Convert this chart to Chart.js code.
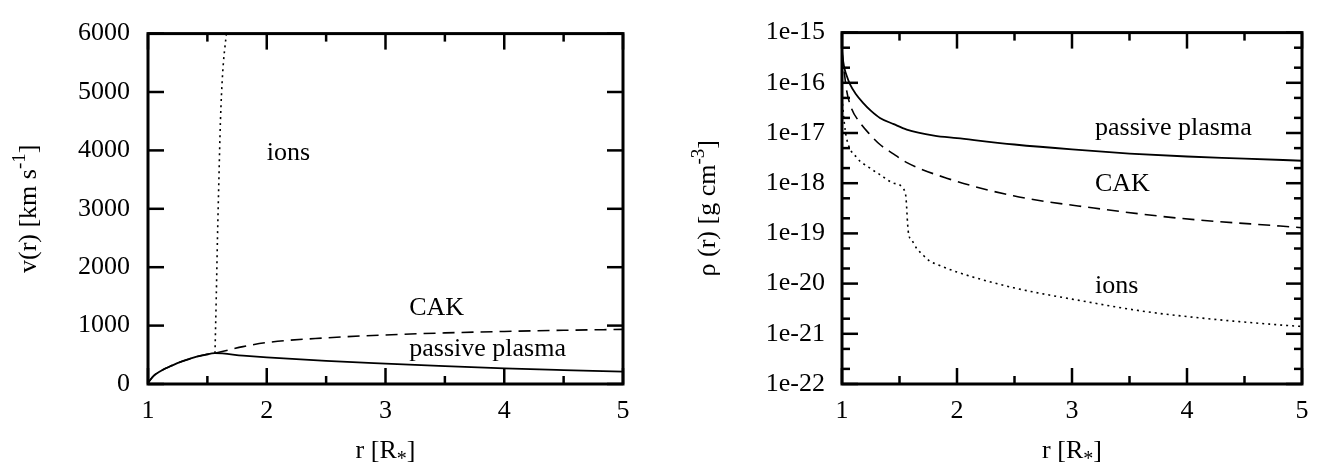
<!DOCTYPE html>
<html><head><meta charset="utf-8">
<script src="https://cdn.jsdelivr.net/npm/chart.js@4.4.0/dist/chart.umd.min.js"></script>
<style>
html,body{margin:0;padding:0;background:#fff;}
#wrap{position:relative;width:1329px;height:465px;overflow:hidden;background:#fff}
canvas{position:absolute;top:0}
#cL{left:0px}
#cR{left:664px}
</style></head><body>
<div id="wrap"><canvas id="cL" width="664" height="465"></canvas><canvas id="cR" width="665" height="465"></canvas></div>
<script>
// ---------- Left panel: velocity v(r) [km/s] ----------
const rPassiveV = [1.0, 1.05, 1.1, 1.15, 1.2, 1.27, 1.35, 1.41, 1.48, 1.564, 1.8, 2.0, 2.5, 3.0, 3.5, 4.0, 4.5, 5.0];
const vPassive  = [20, 145, 215, 270, 315, 375, 430, 468, 500, 527, 485, 456, 395, 348, 305, 266, 237, 212];
const rCakV = [1.0, 1.05, 1.1, 1.15, 1.2, 1.27, 1.35, 1.41, 1.48, 1.564, 1.8, 2.0, 2.5, 3.0, 3.5, 4.0, 4.5, 5.0];
const vCak  = [20, 145, 215, 270, 315, 375, 430, 468, 500, 527, 640, 710, 790, 840, 875, 900, 920, 935];
const rIonsV = [1.564, 1.575, 1.585, 1.597, 1.61, 1.628, 1.66, 1.665];
const vIons  = [527, 1500, 2500, 3500, 4500, 5300, 6000, 6100];

// ---------- Right panel: density rho(r) [g/cm^3] ----------
const rPassiveRho = [1.0, 1.01, 1.025, 1.04, 1.07, 1.12, 1.183, 1.25, 1.33, 1.45, 1.563, 1.8, 2.0, 2.5, 3.0, 3.5, 4.0, 4.5, 5.0];
const rhoPassive  = [4.5e-16, 2.7e-16, 1.8e-16, 1.4e-16, 9.3e-17, 6.0e-17, 4.0e-17, 2.8e-17, 2.0e-17, 1.5e-17, 1.17e-17, 8.9e-18, 7.9e-18, 5.9e-18, 4.7e-18, 3.9e-18, 3.4e-18, 3.1e-18, 2.8e-18];
const rCakRho = [1.0, 1.02, 1.04, 1.08, 1.157, 1.24, 1.33, 1.45, 1.56, 1.91, 2.49, 3.19, 3.94, 4.81, 5.0];
const rhoCak  = [4e-16, 1.6e-16, 7.1e-17, 3.2e-17, 1.6e-17, 9.5e-18, 5.9e-18, 3.8e-18, 2.6e-18, 1.26e-18, 5.6e-19, 3.2e-19, 2.0e-19, 1.4e-19, 1.3e-19];
const rIonsRho = [1.0, 1.02, 1.04, 1.13, 1.23, 1.33, 1.45, 1.55, 1.56, 1.57, 1.58, 1.606, 1.65, 1.7, 1.765, 1.85, 2.0, 2.49, 3.07, 3.65, 4.23, 4.81, 5.0];
const rhoIons  = [5e-17, 1.6e-17, 7.8e-18, 3.2e-18, 2.1e-18, 1.48e-18, 1.0e-18, 6.6e-19, 4.0e-19, 1.6e-19, 9.5e-20, 7.4e-20, 5.0e-20, 3.8e-20, 2.8e-20, 2.3e-20, 1.7e-20, 8.3e-21, 4.6e-21, 2.75e-21, 1.95e-21, 1.5e-21, 1.4e-21];

// ---------- Ticks ----------
const rTickValues = [1, 2, 3, 4, 5];
const rTickLabels = ['1', '2', '3', '4', '5'];
const rMinorTicks = [1.5, 2.5, 3.5, 4.5];
const vTickValues = [0, 1000, 2000, 3000, 4000, 5000, 6000];
const vTickLabels = ['0', '1000', '2000', '3000', '4000', '5000', '6000'];
const rhoTickValues = [1e-22, 1e-21, 1e-20, 1e-19, 1e-18, 1e-17, 1e-16, 1e-15];
const rhoTickLabels = ['1e-22', '1e-21', '1e-20', '1e-19', '1e-18', '1e-17', '1e-16', '1e-15'];
const rhoMinorTicks = [2e-22, 5e-22, 2e-21, 5e-21, 2e-20, 5e-20, 2e-19, 5e-19, 2e-18, 5e-18, 2e-17, 5e-17, 2e-16, 5e-16];

// ---------- In-plot labels ----------
const leftLabelText = ['ions', 'CAK', 'passive plasma'];
const leftLabelR    = [2.0, 3.2, 3.2];
const leftLabelV    = [3950, 1290, 590];
const rightLabelText = ['passive plasma', 'CAK', 'ions'];
const rightLabelR    = [3.2, 3.2, 3.2];
const rightLabelRho  = [1.25e-17, 9.5e-19, 9.0e-21];

const FONT = "'Liberation Serif', 'Times New Roman', serif";
const FS = 26;

function pts(xs, ys) { return xs.map((x, i) => ({ x: x, y: ys[i] })); }

function drawRich(ctx, segs, x, y, rotate) {
  ctx.save();
  ctx.translate(x, y);
  if (rotate) ctx.rotate(-Math.PI / 2);
  let total = 0;
  segs.forEach(s => { ctx.font = s.size + 'px ' + FONT; total += ctx.measureText(s.t).width; });
  let cx = -total / 2;
  ctx.textBaseline = 'alphabetic';
  ctx.textAlign = 'left';
  segs.forEach(s => {
    ctx.font = s.size + 'px ' + FONT;
    ctx.fillText(s.t, cx, 8 + (s.dy || 0));
    cx += ctx.measureText(s.t).width;
  });
  ctx.restore();
}

const framePlugin = {
  id: 'gframe',
  afterDatasetsDraw(chart, args, o) {
    const { ctx, chartArea: a, scales: { x, y } } = chart;
    ctx.save();
    ctx.strokeStyle = '#000';
    ctx.lineCap = 'butt';
    const seg = (x1, y1, x2, y2) => { ctx.beginPath(); ctx.moveTo(x1, y1); ctx.lineTo(x2, y2); ctx.stroke(); };
    ctx.lineWidth = 2.5;
    const MAJ = 16, MIN = 8;
    o.xMajor.forEach(v => { const p = x.getPixelForValue(v); seg(p, a.bottom, p, a.bottom - MAJ); seg(p, a.top, p, a.top + MAJ); });
    o.xMinor.forEach(v => { const p = x.getPixelForValue(v); seg(p, a.bottom, p, a.bottom - MIN); seg(p, a.top, p, a.top + MIN); });
    o.yMajor.forEach(v => { const p = y.getPixelForValue(v); seg(a.left, p, a.left + MAJ, p); seg(a.right, p, a.right - MAJ, p); });
    (o.yMinor || []).forEach(v => { const p = y.getPixelForValue(v); seg(a.left, p, a.left + MIN, p); seg(a.right, p, a.right - MIN, p); });
    ctx.lineWidth = 3;
    ctx.strokeRect(a.left, a.top, a.right - a.left, a.bottom - a.top);
    // in-plot labels
    ctx.fillStyle = '#000';
    ctx.font = FS + 'px ' + FONT;
    ctx.textAlign = 'left';
    ctx.textBaseline = 'middle';
    o.labels.text.forEach((t, i) => {
      ctx.fillText(t, x.getPixelForValue(o.labels.x[i]), y.getPixelForValue(o.labels.y[i]));
    });
    // axis titles
    drawRich(ctx, o.xTitle, (a.left + a.right) / 2, a.bottom + o.xTitleOffset, false);
    drawRich(ctx, o.yTitle, a.left - o.yTitleOffset, (a.top + a.bottom) / 2, true);
    ctx.restore();
  }
};

const xTitleSegs = [{ t: 'r [R', size: FS }, { t: '*', size: 20, dy: 7 }, { t: ']', size: FS }];

function lineDs(data, dash, width) {
  return { data: data, borderColor: '#000', borderWidth: width, borderDash: dash, pointRadius: 0, fill: false,
           cubicInterpolationMode: 'monotone', borderCapStyle: 'butt' };
}

const tickFont = { family: FONT, size: FS };

new Chart(document.getElementById('cL'), {
  type: 'line',
  data: { datasets: [
    lineDs(pts(rCakV, vCak), [12, 7], 1.6),
    lineDs(pts(rIonsV, vIons), [2, 4], 1.6),
    lineDs(pts(rPassiveV, vPassive), [], 1.8)
  ] },
  options: {
    responsive: false, animation: false, devicePixelRatio: 1,
    layout: { padding: { left: 0, right: 41, top: 16, bottom: 0 } },
    plugins: {
      legend: { display: false }, tooltip: { enabled: false },
      gframe: {
        xMajor: rTickValues, xMinor: rMinorTicks, yMajor: vTickValues, yMinor: [],
        labels: { text: leftLabelText, x: leftLabelR, y: leftLabelV },
        xTitle: xTitleSegs, xTitleOffset: 66,
        yTitle: [{ t: 'v(r) [km s', size: FS }, { t: '-1', size: 19, dy: -11 }, { t: ']', size: FS }], yTitleOffset: 120
      }
    },
    scales: {
      x: { type: 'linear', min: 1, max: 5,
        grid: { display: false, drawTicks: false }, border: { display: false },
        afterBuildTicks: s => { s.ticks = rTickValues.map(v => ({ value: v })); },
        ticks: { font: tickFont, color: '#000', padding: 12, maxRotation: 0, autoSkip: false, callback: (v, i) => rTickLabels[i] },
        afterFit: s => { s.height = 81; } },
      y: { type: 'linear', min: 0, max: 6000,
        grid: { display: false, drawTicks: false }, border: { display: false },
        afterBuildTicks: s => { s.ticks = vTickValues.map(v => ({ value: v })); },
        ticks: { font: tickFont, color: '#000', padding: 18, autoSkip: false, callback: (v, i) => vTickLabels[i] },
        afterFit: s => { s.width = 148; } }
    }
  },
  plugins: [framePlugin]
});

new Chart(document.getElementById('cR'), {
  type: 'line',
  data: { datasets: [
    lineDs(pts(rCakRho, rhoCak), [12, 7], 1.6),
    lineDs(pts(rIonsRho, rhoIons), [2, 4], 1.6),
    lineDs(pts(rPassiveRho, rhoPassive), [], 1.8)
  ] },
  options: {
    responsive: false, animation: false, devicePixelRatio: 1,
    layout: { padding: { left: 0, right: 27, top: 16, bottom: 0 } },
    plugins: {
      legend: { display: false }, tooltip: { enabled: false },
      gframe: {
        xMajor: rTickValues, xMinor: rMinorTicks, yMajor: rhoTickValues, yMinor: rhoMinorTicks,
        labels: { text: rightLabelText, x: rightLabelR, y: rightLabelRho },
        xTitle: xTitleSegs, xTitleOffset: 66,
        yTitle: [{ t: 'ρ (r) [g cm', size: FS }, { t: '-3', size: 19, dy: -11 }, { t: ']', size: FS }], yTitleOffset: 135
      }
    },
    scales: {
      x: { type: 'linear', min: 1, max: 5,
        grid: { display: false, drawTicks: false }, border: { display: false },
        afterBuildTicks: s => { s.ticks = rTickValues.map(v => ({ value: v })); },
        ticks: { font: tickFont, color: '#000', padding: 12, maxRotation: 0, autoSkip: false, callback: (v, i) => rTickLabels[i] },
        afterFit: s => { s.height = 81; } },
      y: { type: 'logarithmic', min: 1e-22, max: 1e-15,
        grid: { display: false, drawTicks: false }, border: { display: false },
        afterBuildTicks: s => { s.ticks = rhoTickValues.map(v => ({ value: v })); },
        ticks: { font: tickFont, color: '#000', padding: 17, autoSkip: false, callback: (v, i) => rhoTickLabels[i] },
        afterFit: s => { s.width = 178; } }
    }
  },
  plugins: [framePlugin]
});
</script>
</body></html>
